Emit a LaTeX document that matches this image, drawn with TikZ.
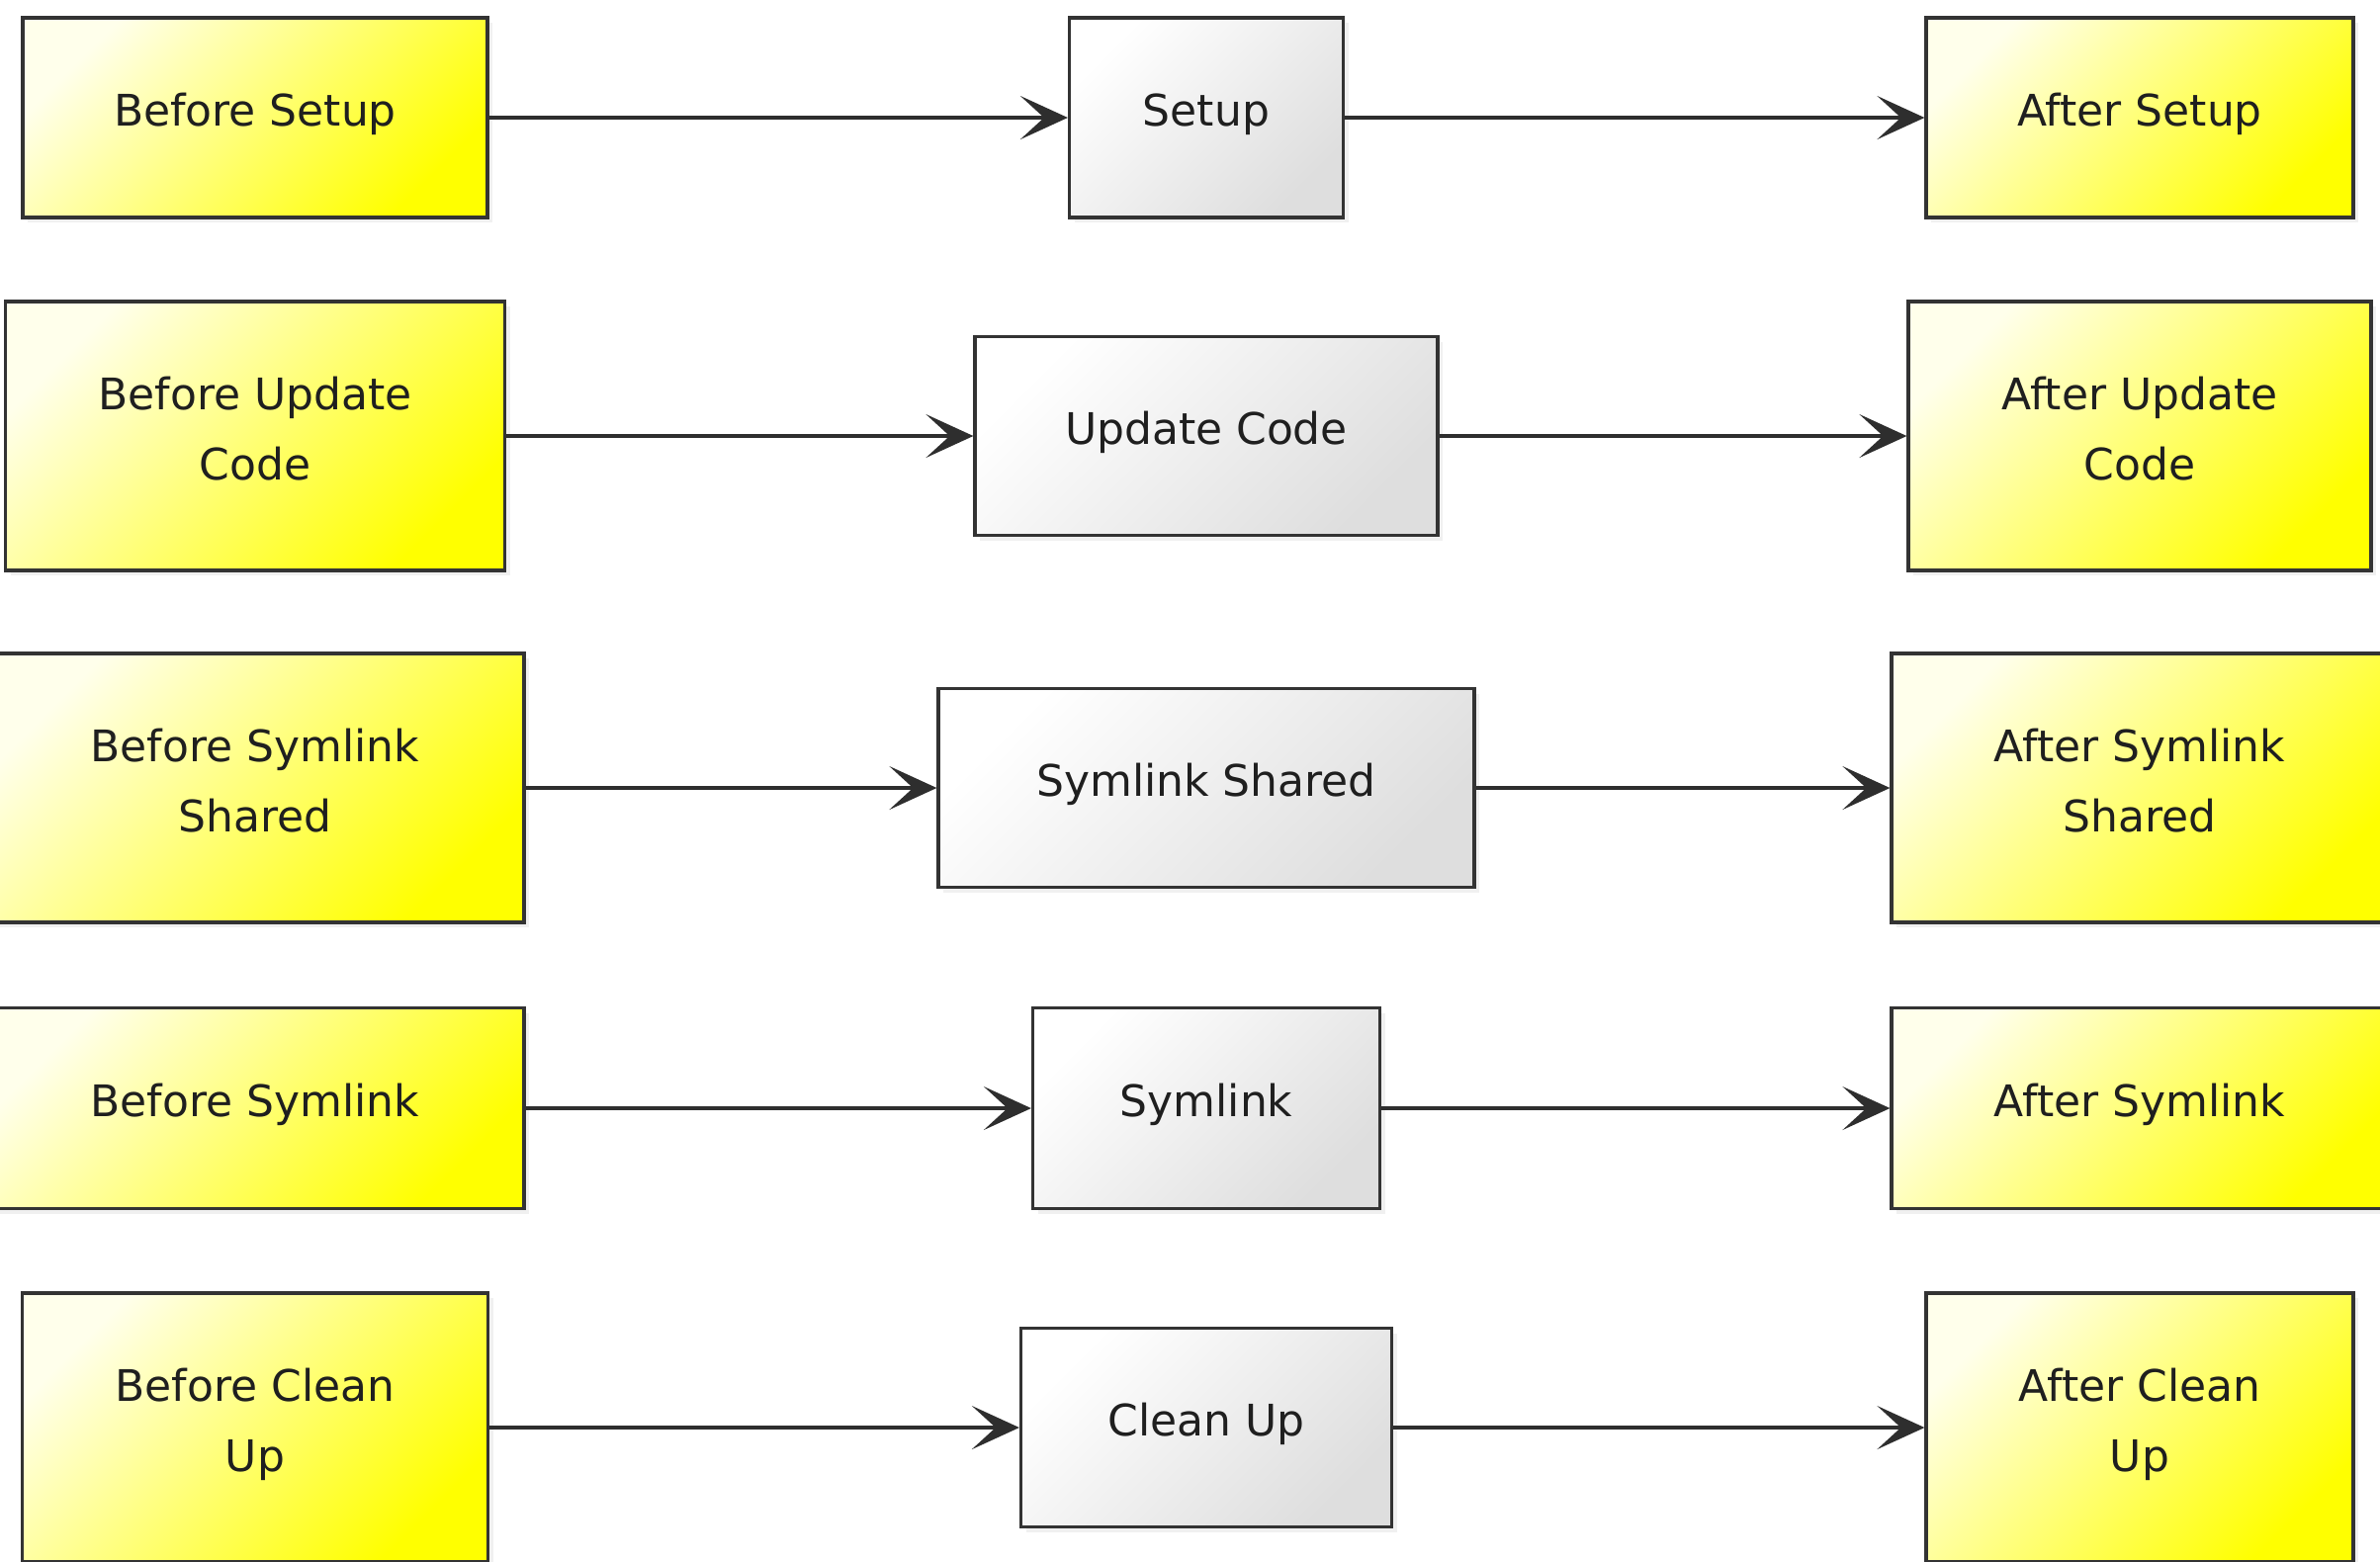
\documentclass[tikz,border=0pt]{standalone}
\usepackage{fontspec}
\setmainfont{DejaVu Sans}
\usetikzlibrary{arrows.meta,shadows}
\tikzset{
  box/.style={draw=black!80, line width=0.8pt, inner sep=0pt, align=center,
    font=\fontsize{11}{17.7}\selectfont, text=black!88, text depth=4pt,
    drop shadow={opacity=0.12, shadow xshift=1.3pt, shadow yshift=-1.3pt}},
  sz/.style 2 args={minimum width=#1*0.25pt, minimum height=#2*0.25pt},
  ybox/.style={box, top color=yellow!8, bottom color=yellow, shading angle=45},
  gbox/.style={box, top color=white, bottom color=black!13, shading angle=45},
  arr/.style={draw=black!82, line width=0.8pt, -{Stealth[length=12pt,width=11pt,inset=6pt]}}
}
\begin{document}
\begin{tikzpicture}[x=0.25pt,y=-0.25pt]
\useasboundingbox (0,0) rectangle (2407,1579);
\clip (0,0) rectangle (2407,1579);
% row 1
\node[ybox, sz={470}{202}] (bs)  at (258,119)  {Before Setup};
\node[gbox, sz={277}{202}] (s)   at (1220,119) {Setup};
\node[ybox, sz={432}{202}] (as)  at (2164,119) {After Setup};
% row 2
\node[ybox, sz={505}{272}] (buc) at (258,441)  {Before Update\\Code};
\node[gbox, sz={468}{201}] (uc)  at (1220,441) {Update Code};
\node[ybox, sz={468}{272}] (auc) at (2164,441) {After Update\\Code};
% row 3
\node[ybox, sz={544}{272}] (bss) at (258,797)  {Before Symlink\\Shared};
\node[gbox, sz={542}{201}] (ss)  at (1220,797) {Symlink Shared};
\node[ybox, sz={502}{272}] (ass) at (2164,797) {After Symlink\\Shared};
% row 4
\node[ybox, sz={544}{203}] (bsl) at (258,1121)  {Before Symlink};
\node[gbox, sz={351}{203}] (sl)  at (1220,1121) {Symlink};
\node[ybox, sz={502}{203}] (asl) at (2164,1121) {After Symlink};
% row 5
\node[ybox, sz={471}{272}] (bcu) at (258,1444)  {Before Clean\\Up};
\node[gbox, sz={375}{201}] (cu)  at (1220,1444) {Clean Up};
\node[ybox, sz={432}{272}] (acu) at (2164,1444) {After Clean\\Up};
% connectors
\draw[arr] (bs) -- (s);   \draw[arr] (s) -- (as);
\draw[arr] (buc) -- (uc); \draw[arr] (uc) -- (auc);
\draw[arr] (bss) -- (ss); \draw[arr] (ss) -- (ass);
\draw[arr] (bsl) -- (sl); \draw[arr] (sl) -- (asl);
\draw[arr] (bcu) -- (cu); \draw[arr] (cu) -- (acu);
\end{tikzpicture}
\end{document}
